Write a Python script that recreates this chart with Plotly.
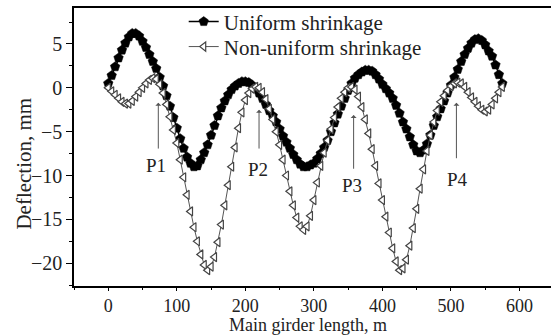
import plotly.graph_objects as go

girder_length_m = [0, 5, 10, 15, 20, 25, 30, 35, 40, 45,
                   50, 55, 60, 65, 70, 75, 80, 85, 90, 95,
                   100, 105, 110, 115, 120, 125, 130, 135, 140, 145,
                   150, 155, 160, 165, 170, 175, 180, 185, 190, 195,
                   200, 205, 210, 215, 220, 225, 230, 235, 240, 245,
                   250, 255, 260, 265, 270, 275, 280, 285, 290, 295,
                   300, 305, 310, 315, 320, 325, 330, 335, 340, 345,
                   350, 355, 360, 365, 370, 375, 380, 385, 390, 395,
                   400, 405, 410, 415, 420, 425, 430, 435, 440, 445,
                   450, 455, 460, 465, 470, 475, 480, 485, 490, 495,
                   500, 505, 510, 515, 520, 525, 530, 535, 540, 545,
                   550, 555, 560, 565, 570, 575]

uniform_mm = [0.5, 1.4, 2.4, 3.4, 4.3, 5.1, 5.8, 6.2, 6.2, 5.9,
              5.3, 4.6, 3.8, 3.0, 2.2, 1.2, 0.2, -0.9, -2.1, -3.4,
              -4.6, -5.8, -6.9, -7.9, -8.6, -9.0, -8.9, -8.2, -7.4, -6.5,
              -5.4, -4.3, -3.2, -2.3, -1.5, -0.8, -0.2, 0.2, 0.5, 0.7,
              0.7, 0.6, 0.3, -0.1, -0.6, -1.2, -1.9, -2.6, -3.2, -3.9,
              -4.7, -5.5, -6.2, -6.9, -7.6, -8.2, -8.7, -9.0, -9.0, -8.8,
              -8.6, -8.1, -7.5, -6.8, -6.0, -5.0, -4.0, -3.0, -2.1, -1.2,
              -0.3, 0.5, 1.1, 1.5, 1.8, 2.0, 2.0, 1.9, 1.5, 1.0,
              0.4, -0.1, -0.6, -1.2, -2.0, -2.9, -3.9, -4.7, -5.6, -6.5,
              -7.2, -7.4, -7.1, -6.4, -5.4, -4.3, -3.3, -2.4, -1.5, -0.6,
              0.3, 1.2, 2.1, 3.0, 3.8, 4.5, 5.1, 5.5, 5.6, 5.4,
              4.9, 4.2, 3.6, 2.6, 1.5, 0.5]

non_uniform_mm = [0.0, -0.4, -0.8, -1.2, -1.6, -1.8, -1.8, -1.5, -1.0, -0.5,
                  0.0, 0.5, 0.9, 1.1, 1.0, 0.4, -0.6, -1.9, -3.3, -4.8,
                  -6.3, -8.2, -10.2, -12.2, -14.1, -15.9, -17.5, -19.0, -20.2, -20.8,
                  -20.4, -19.3, -17.6, -15.6, -13.4, -11.1, -9.0, -6.8, -4.6, -2.8,
                  -1.4, -0.6, -0.1, 0.1, 0.0, -0.5, -1.3, -2.4, -3.6, -5.0,
                  -6.5, -8.2, -10.0, -11.8, -13.4, -14.8, -15.8, -16.2, -15.8, -14.6,
                  -12.8, -10.8, -8.9, -7.4, -6.0, -4.7, -3.4, -2.2, -1.2, -0.5,
                  0.0, 0.1, -0.2, -1.0, -2.2, -3.6, -5.2, -7.0, -8.9, -10.9,
                  -12.8, -14.7, -16.5, -18.3, -19.8, -20.8, -20.6, -19.6, -18.0, -16.0,
                  -13.8, -11.5, -9.3, -7.2, -5.4, -3.9, -2.6, -1.6, -0.9, -0.3,
                  0.2, 0.5, 0.6, 0.5, 0.1, -0.5, -1.1, -1.6, -2.1, -2.5,
                  -2.7, -2.5, -1.9, -1.2, -0.5, 0.1]

point_labels = ["P1", "P2", "P3", "P4"]
point_x = [73, 220, 358, 508]
arrow_head_y = [-1.7, -2.5, -3.1, -1.7]
arrow_tail_y = [-7.1, -7.1, -9.4, -8.2]
label_x = [69, 218, 356, 510]
label_y = [-8.9, -9.3, -11.1, -10.5]

x_ticks = [0, 100, 200, 300, 400, 500, 600]
y_ticks = [-20, -15, -10, -5, 0, 5]

FONT = "Liberation Serif"
TXT = "#222222"

fig = go.Figure()
fig.add_trace(go.Scatter(
    x=girder_length_m, y=uniform_mm, mode="lines+markers",
    name="Uniform shrinkage", legend="legend",
    line=dict(color="black", width=1.5),
    marker=dict(symbol="pentagon", size=10, color="black",
                line=dict(color="black", width=0.5)),
))
fig.add_trace(go.Scatter(
    x=girder_length_m, y=non_uniform_mm, mode="lines+markers",
    name="Non-uniform shrinkage", legend="legend2",
    line=dict(color="#555555", width=1),
    marker=dict(symbol="triangle-left", size=8, color="white",
                line=dict(color="#444444", width=1.2)),
))

for lab, px, hy, ty, lx, ly in zip(point_labels, point_x, arrow_head_y, arrow_tail_y, label_x, label_y):
    fig.add_annotation(x=px, y=hy, ax=px, ay=ty, xref="x", yref="y",
                       axref="x", ayref="y", text="", showarrow=True,
                       arrowhead=1, arrowsize=1, arrowwidth=1, arrowcolor="#555555")
    fig.add_annotation(x=lx, y=ly, xref="x", yref="y", text=lab, showarrow=False,
                       font=dict(family=FONT, size=19, color=TXT))

fig.add_annotation(x=-0.105, y=0.44, xref="paper", yref="paper",
                   xanchor="center", yanchor="middle",
                   text="Deflection, mm", textangle=-90, showarrow=False,
                   font=dict(family=FONT, size=21, color=TXT))
fig.add_annotation(x=0.49, y=-0.14, xref="paper", yref="paper",
                   xanchor="center", yanchor="middle",
                   text="Main girder length, m", showarrow=False,
                   font=dict(family=FONT, size=18, color=TXT))

legend_style = dict(font=dict(family=FONT, size=21, color=TXT),
                    bgcolor="rgba(255,255,255,0)", borderwidth=0,
                    xanchor="left", yanchor="middle")

fig.update_layout(
    width=551, height=335,
    margin=dict(l=74, r=0, t=8, b=49),
    paper_bgcolor="white", plot_bgcolor="white",
    showlegend=True,
    legend=dict(x=0.23, y=0.95, **legend_style),
    legend2=dict(x=0.23, y=0.86, **legend_style),
    xaxis=dict(range=[-50, 646], tickvals=x_ticks, showgrid=False, zeroline=False,
               showline=True, linecolor="black", linewidth=1.5, mirror=True,
               ticks="outside", ticklen=3, tickwidth=1.2, tickcolor="black",
               minor=dict(dtick=50, tick0=0, ticks="outside", ticklen=2, tickcolor="black", tickwidth=1),
               tickfont=dict(family=FONT, size=18, color=TXT)),
    yaxis=dict(range=[-22.6, 9.1], tickvals=y_ticks, showgrid=False, zeroline=False,
               showline=True, linecolor="black", linewidth=1.5,
               ticks="outside", ticklen=6, tickwidth=1.2, tickcolor="black",
               minor=dict(dtick=2.5, tick0=0, ticks="outside", ticklen=3, tickcolor="black", tickwidth=1),
               tickfont=dict(family=FONT, size=20, color=TXT)),
)

fig.write_html("out.html")
